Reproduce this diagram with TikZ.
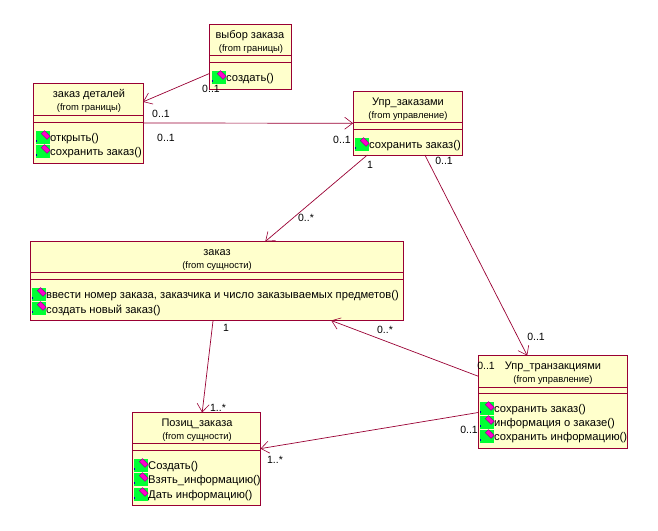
\documentclass[tikz,border=0pt]{standalone}
\usepackage{fontspec}
\setmainfont{Liberation Sans}
\usepackage{xcolor}
\usetikzlibrary{arrows.meta}

\definecolor{umlline}{HTML}{990033}
\definecolor{umlfill}{HTML}{FFFFCC}
\definecolor{umlgreen}{HTML}{00FF33}
\definecolor{umlpink}{HTML}{FF00CC}

\tikzset{
    classbox/.style={draw=umlline, fill=umlfill, line width=0.9pt, rectangle, outer sep=0pt, inner sep=0pt},
    assoc/.style={draw=umlline, line width=0.7pt, -{Straight Barb[length=8pt, width=12pt, line width=0.6pt]}},
    title/.style={font=\fontsize{11}{13}\selectfont, inner sep=0pt, yshift=-1.5pt},
    origin/.style={font=\fontsize{9.4}{11}\selectfont, inner sep=0pt, yshift=-1pt},
    method/.style={font=\fontsize{11.2}{13}\selectfont, inner sep=0pt, anchor=west, yshift=-1pt},
    mult/.style={font=\fontsize{10.5}{12}\selectfont, inner sep=0pt, yshift=-0.5pt},
}

% compartment lines of a class
\newcommand{\compart}[3]{
    \draw[umlline, line width=0.9pt] (#1.west |- 0,#2) -- (#1.east |- 0,#2);
    \draw[umlline, line width=0.9pt] (#1.west |- 0,#3) -- (#1.east |- 0,#3);
}
% operation row: name, icon left, text middle, text
\newcommand{\oprow}[4]{
    \fill[umlgreen] (#2,#3-7) rectangle (#2+14,#3+6);
    \fill[blue!70!black] (#2,#3+2) rectangle (#2+0.8,#3+3.5);
    \draw[fill=umlpink, draw=violet, line width=0.4pt, rotate around={-45:(#2+9.8,#3-3)}] (#2+5.8,#3-5.2) rectangle (#2+13.8,#3-0.8);
    \node[method] (#1) at (#2+14,#3) {#4};
}

\begin{document}
\begin{tikzpicture}[x=1pt, y=-1pt]
    \useasboundingbox (0,0) rectangle (658,530);

    % classes
    \node[classbox, minimum width=81.5pt, minimum height=65pt] (choice) at (250.25,57) {};
    \node[classbox, minimum width=110pt, minimum height=80pt] (details) at (88,123) {};
    \node[classbox, minimum width=109.7pt, minimum height=63.5pt] (orders) at (408,123.25) {};
    \node[classbox, minimum width=373pt, minimum height=79pt] (order) at (216.5,281) {};
    \node[classbox, minimum width=128pt, minimum height=92.5pt] (item) at (196.5,458.75) {};
    \node[classbox, minimum width=149pt, minimum height=93pt] (trans) at (553,402) {};

    \compart{choice}{55}{62}
    \compart{details}{115}{122}
    \compart{orders}{122.5}{129.5}
    \compart{order}{272.5}{279.5}
    \compart{item}{443.5}{450.5}
    \compart{trans}{387}{393.5}

    % titles
    \node[title] (choiceT) at (250,34) {выбор заказа};
    \node[origin] (choiceF) at (251,48) {(from границы)};
    \node[title] (detailsT) at (89,93) {заказ деталей};
    \node[origin] (detailsF) at (89,107) {(from границы)};
    \node[title] (ordersT) at (408,101) {Упр\_заказами};
    \node[origin] (ordersF) at (408,115) {(from управление)};
    \node[title] (orderT) at (217,251) {заказ};
    \node[origin] (orderF) at (217,265) {(from сущности)};
    \node[title] (itemT) at (197,422) {Позиц\_заказа};
    \node[origin] (itemF) at (197,436) {(from сущности)};
    \node[title] (transT) at (553,365) {Упр\_транзакциями};
    \node[origin] (transF) at (553,379) {(from управление)};

    % operations
    \oprow{choiceA}{212}{78}{создать()}
    \oprow{detailsA}{36}{138}{открыть()}
    \oprow{detailsB}{36}{152}{сохранить заказ()}
    \oprow{ordersA}{355}{145}{сохранить заказ()}
    \oprow{orderA}{32}{295}{ввести номер заказа, заказчика и число заказываемых предметов()}
    \oprow{orderB}{32}{309}{создать новый заказ()}
    \oprow{itemA}{134}{466}{Создать()}
    \oprow{itemB}{134}{480}{Взять\_информацию()}
    \oprow{itemC}{134}{495}{Дать информацию()}
    \oprow{transA}{480}{409}{сохранить заказ()}
    \oprow{transB}{480}{423}{информация о заказе()}
    \oprow{transC}{480}{437}{сохранить информацию()}

    % associations
    \draw[assoc] (choice.202.6) -- (details.21.8);
    \draw[assoc] (details.east) -- (orders.west);
    \draw[assoc] (orders.218) -- (order.39.2);
    \draw[assoc] (orders.298) -- (trans.119.2);
    \draw[assoc] (order.265) -- (item.83.2);
    \draw[assoc] (trans.161.4) -- (order.341.5);
    \draw[assoc] (trans.188.4) -- (item.9.5);

    % multiplicities
    \node[mult] (m1) at (211,88) {0..1};
    \node[mult] (m2) at (161,113) {0..1};
    \node[mult] (m3) at (166,137) {0..1};
    \node[mult] (m4) at (342,139) {0..1};
    \node[mult] (m5) at (370,164) {1};
    \node[mult] (m6) at (444,160) {0..1};
    \node[mult] (m7) at (306,217) {0..*};
    \node[mult] (m8) at (226,327) {1};
    \node[mult] (m9) at (385,329) {0..*};
    \node[mult] (m10) at (536,336) {0..1};
    \node[mult] (m11) at (486,365) {0..1};
    \node[mult] (m12) at (469,429) {0..1};
    \node[mult] (m13) at (218,407) {1..*};
    \node[mult] (m14) at (275,459) {1..*};
\end{tikzpicture}
\end{document}
